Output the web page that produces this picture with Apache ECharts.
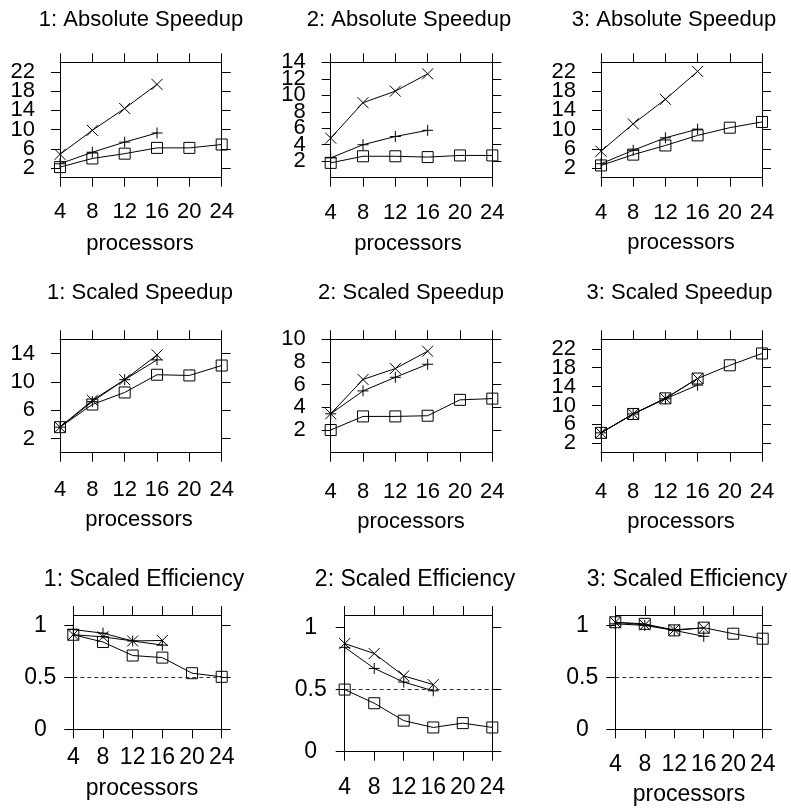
<!DOCTYPE html>
<html><head><meta charset="utf-8">
<script src="https://cdn.jsdelivr.net/npm/echarts@6/dist/echarts.min.js"></script>
<style>html,body{margin:0;padding:0;background:#fff}#c{width:791px;height:812px}</style>
</head><body><div id="c"></div>
<script>
// ---------- data ----------
const processors = [4, 8, 12, 16, 20, 24];
const xTicks = [4, 8, 12, 16, 20, 24];

const abs1Cross = [4.85, 9.85, 14.4, 19.4];
const abs1Plus = [2.9, 5.3, 7.4, 9.3];
const abs1Square = [2.2, 4.0, 5.0, 6.2, 6.2, 6.9];

const abs2Cross = [4.8, 9.1, 10.5, 12.6];
const abs2Plus = [2.4, 4.0, 5.0, 5.75];
const abs2Square = [1.8, 2.6, 2.6, 2.5, 2.7, 2.7];

const abs3Cross = [5.5, 11.2, 16.3, 22.1];
const abs3Plus = [2.9, 5.7, 8.3, 10.1];
const abs3Square = [2.55, 4.8, 6.7, 8.8, 10.4, 11.6];

const sc1Cross = [3.6, 7.4, 10.3, 13.8];
const sc1Plus = [3.6, 7.2, 10.3, 13.1];
const sc1Square = [3.6, 6.8, 8.5, 11.0, 10.9, 12.3];

const sc2Cross = [3.43, 6.46, 7.42, 8.95];
const sc2Plus = [3.43, 5.45, 6.65, 7.8];
const sc2Square = [2.0, 3.2, 3.2, 3.26, 4.66, 4.77];

const sc3Cross = [4.2, 8.2, 11.5, 15.7];
const sc3Plus = [4.2, 8.2, 11.4, 14.3];
const sc3Square = [4.2, 8.2, 11.5, 15.7, 18.5, 21.0];

const eff1Cross = [0.91, 0.89, 0.85, 0.855];
const eff1Plus = [0.96, 0.925, 0.85, 0.81];
const eff1Square = [0.91, 0.84, 0.71, 0.69, 0.54, 0.505];

const eff2Cross = [0.87, 0.79, 0.61, 0.54];
const eff2Plus = [0.84, 0.67, 0.56, 0.49];
const eff2Square = [0.50, 0.39, 0.25, 0.195, 0.23, 0.195];

const eff3Cross = [1.03, 1.005, 0.958, 0.975];
const eff3Plus = [1.015, 1.0, 0.952, 0.895];
const eff3Square = [1.03, 1.015, 0.952, 0.978, 0.92, 0.872];

const yTicks24 = [2, 6, 10, 14, 18, 22];
const yTicks14 = [2, 4, 6, 8, 10, 12, 14];
const yTicks16 = [2, 6, 10, 14];
const yTicks10 = [2, 4, 6, 8, 10];
const yTicksEff = [0, 0.5, 1];

const titles = ['1: Absolute Speedup', '2: Absolute Speedup', '3: Absolute Speedup',
  '1: Scaled Speedup', '2: Scaled Speedup', '3: Scaled Speedup',
  '1: Scaled Efficiency', '2: Scaled Efficiency', '3: Scaled Efficiency'];
const xName = 'processors';
const refLine = 0.5;

// ---------- panels ----------
const panels = [
  {cross: abs1Cross, plus: abs1Plus, square: abs1Square, yMax: 24, yTicks: yTicks24},
  {cross: abs2Cross, plus: abs2Plus, square: abs2Square, yMax: 14, yTicks: yTicks14},
  {cross: abs3Cross, plus: abs3Plus, square: abs3Square, yMax: 24, yTicks: yTicks24},
  {cross: sc1Cross, plus: sc1Plus, square: sc1Square, yMax: 16, yTicks: yTicks16},
  {cross: sc2Cross, plus: sc2Plus, square: sc2Square, yMax: 10, yTicks: yTicks10},
  {cross: sc3Cross, plus: sc3Plus, square: sc3Square, yMax: 24, yTicks: yTicks24},
  {cross: eff1Cross, plus: eff1Plus, square: eff1Square, yMax: 1.1, yTicks: yTicksEff, ref: true},
  {cross: eff2Cross, plus: eff2Plus, square: eff2Square, yMax: 1.1, yTicks: yTicksEff, ref: true},
  {cross: eff3Cross, plus: eff3Plus, square: eff3Square, yMax: 1.1, yTicks: yTicksEff, ref: true}
];

// layout: grid box, label margins, title & axis-name positions
const layout = [
  {l: 60, t: 62.3, w: 161.7, h: 115.4, xm: 34, ym: 25, ya: 'right', tx: 141, ty: 20, nx: 140, ny: 244, fs: 22},
  {l: 330.7, t: 62.3, w: 161.6, h: 115.4, xm: 35.5, ym: 25, ya: 'right', tx: 409, ty: 20, nx: 408, ny: 244, fs: 22},
  {l: 601, t: 62.3, w: 161, h: 115.4, xm: 35.5, ym: 25, ya: 'right', tx: 674, ty: 20, nx: 681, ny: 243, fs: 22},
  {l: 60, t: 339.3, w: 161.7, h: 113.4, xm: 37.5, ym: 25, ya: 'right', tx: 140, ty: 293, nx: 139, ny: 520, fs: 22},
  {l: 330.7, t: 339.3, w: 161.6, h: 113.4, xm: 39, ym: 25, ya: 'right', tx: 411, ty: 293, nx: 411, ny: 522, fs: 22},
  {l: 601, t: 339.3, w: 161, h: 113.4, xm: 39.5, ym: 25, ya: 'right', tx: 679.5, ty: 293, nx: 681, ny: 522, fs: 22},
  {l: 73.3, t: 615, w: 148.4, h: 114.3, xm: 28.5, ym: 33, ya: 'center', tx: 144, ty: 580, nx: 142, ny: 789, fs: 23},
  {l: 344.7, t: 615, w: 147.6, h: 136.7, xm: 36, ym: 34, ya: 'center', tx: 415, ty: 580, nx: null, ny: null, fs: 23},
  {l: 615.3, t: 615, w: 147.4, h: 114.3, xm: 35, ym: 33, ya: 'center', tx: 687, ty: 580, nx: 689, ny: 795, fs: 23}
];

const FONT = 'Liberation Sans';
const black = '#000';
const lineS = {color: black, width: 1};

const grid = [], xAxis = [], yAxis = [], series = [], graphic = [];

panels.forEach((p, i) => {
  const L = layout[i];
  grid.push({left: L.l, top: L.t, width: L.w, height: L.h, containLabel: false});
  const lbl = {color: black, fontFamily: FONT, fontSize: L.fs, interval: 0,
    showMinLabel: true, showMaxLabel: true, hideOverlap: false};
  // bottom + top x axes
  xAxis.push({gridIndex: i, type: 'value', position: 'bottom', min: 4, max: 24,
    axisLine: {show: true, onZero: false, lineStyle: lineS},
    axisTick: {show: true, length: 9, customValues: xTicks, lineStyle: lineS},
    axisLabel: Object.assign({show: true, customValues: xTicks, margin: L.xm, verticalAlign: 'middle'}, lbl),
    splitLine: {show: false}});
  xAxis.push({gridIndex: i, type: 'value', position: 'top', min: 4, max: 24,
    axisLine: {show: true, onZero: false, lineStyle: lineS},
    axisTick: {show: true, length: 9, customValues: xTicks, lineStyle: lineS},
    axisLabel: {show: false}, splitLine: {show: false}});
  // left y axis (ticks + every other label), right y axis, extra left axis (remaining labels)
  const labA = p.yTicks.filter((_, k) => k % 2 === 0);
  const labB = p.yTicks.filter((_, k) => k % 2 === 1);
  yAxis.push({gridIndex: i, type: 'value', position: 'left', min: 0, max: p.yMax,
    axisLine: {show: true, onZero: false, lineStyle: lineS},
    axisTick: {show: true, length: 9, customValues: p.yTicks, lineStyle: lineS},
    axisLabel: Object.assign({show: true, customValues: labA, margin: L.ym, align: L.ya,
      verticalAlign: 'middle'}, lbl),
    splitLine: {show: false}});
  yAxis.push({gridIndex: i, type: 'value', position: 'right', min: 0, max: p.yMax,
    axisLine: {show: true, onZero: false, lineStyle: lineS},
    axisTick: {show: true, length: 9, customValues: p.yTicks, lineStyle: lineS},
    axisLabel: {show: false}, splitLine: {show: false}});
  yAxis.push({gridIndex: i, type: 'value', position: 'left', offset: 0, min: 0, max: p.yMax,
    axisLine: {show: false, onZero: false},
    axisTick: {show: false},
    axisLabel: Object.assign({show: labB.length > 0, customValues: labB, margin: L.ym, align: L.ya,
      verticalAlign: 'middle'}, lbl),
    splitLine: {show: false}});

  const mk = (vals, symbol, size) => ({
    type: 'line', xAxisIndex: 2 * i, yAxisIndex: 3 * i,
    data: vals.map((v, k) => [processors[k], v]),
    symbol: symbol, symbolSize: size, showAllSymbol: true, clip: false, silent: true,
    itemStyle: {color: 'rgba(0,0,0,0)', borderColor: black, borderWidth: 1},
    lineStyle: {color: black, width: 1},
    emphasis: {disabled: true}
  });
  const sq = mk(p.square, 'rect', 11);
  if (p.ref) {
    sq.markLine = {silent: true, symbol: ['none', 'none'], label: {show: false},
      lineStyle: {type: [4, 3], color: '#333', width: 1},
      data: [{yAxis: refLine}]};
  }
  series.push(sq);
  series.push(mk(p.plus, 'path://M5,0L5,10M0,5L10,5', 11));
  series.push(mk(p.cross, 'path://M0,0L10,10M10,0L0,10', 11));

  graphic.push({type: 'text', x: L.tx, y: L.ty, silent: true,
    style: {text: titles[i], fill: black, font: L.fs + 'px "' + FONT + '"',
      align: 'center', verticalAlign: 'middle', textAlign: 'center', textVerticalAlign: 'middle'}});
  if (L.nx !== null) {
    graphic.push({type: 'text', x: L.nx, y: L.ny, silent: true,
      style: {text: xName, fill: black, font: L.fs + 'px "' + FONT + '"',
        align: 'center', verticalAlign: 'middle', textAlign: 'center', textVerticalAlign: 'middle'}});
  }
});

const chart = echarts.init(document.getElementById('c'), null, {renderer: 'canvas'});
chart.setOption({animation: false, backgroundColor: '#fff', grid, xAxis, yAxis, series, graphic});
</script>
</body></html>
